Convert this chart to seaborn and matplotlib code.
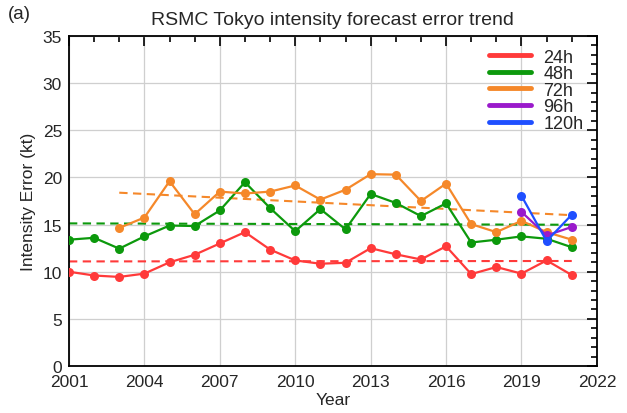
import numpy as np
import pandas as pd
import matplotlib
matplotlib.use("Agg")
import matplotlib.pyplot as plt
from matplotlib.ticker import MultipleLocator
import seaborn as sns

years = list(range(2001, 2022))
err_24h = [10.0, 9.6, 9.45, 9.8, 11.0, 11.8, 13.0, 14.2, 12.35, 11.2, 10.85,
           10.95, 12.5, 11.85, 11.3, 12.7, 9.75, 10.5, 9.8, 11.2, 9.65]
err_48h = [13.4, 13.6, 12.45, 13.75, 14.9, 14.85, 16.5, 19.5, 16.75, 14.3, 16.65,
           14.5, 18.25, 17.3, 15.9, 17.25, 13.1, 13.4, 13.75, 13.5, 12.6]
years_72h = list(range(2003, 2022))
err_72h = [14.65, 15.75, 19.6, 16.1, 18.5, 18.3, 18.5, 19.15, 17.65,
           18.7, 20.35, 20.3, 17.5, 19.35, 15.05, 14.2, 15.4, 14.2, 13.4]
years_ext = [2019, 2020, 2021]
err_96h = [16.35, 13.85, 14.75]
err_120h = [18.05, 13.25, 16.05]
labels = ["24h", "48h", "72h", "96h", "120h"]
colors = ["#ff3a3a", "#0c990c", "#f5882a", "#9a1acb", "#1f4fff"]

series = [(years, err_24h), (years, err_48h), (years_72h, err_72h),
          (years_ext, err_96h), (years_ext, err_120h)]
frames = []
for lab, (yr, val) in zip(labels, series):
    frames.append(pd.DataFrame({"Year": yr, "Error": val, "Lead": lab}))
df = pd.concat(frames, ignore_index=True)

sns.set_style("white")
plt.rcParams["font.family"] = ["Liberation Sans", "DejaVu Sans"]

fig = plt.figure(figsize=(6.27, 4.14), dpi=100)
ax = fig.add_axes([0.110, 0.1135, 0.842, 0.797])

ax.grid(True, which="major", color="#cfcfcf", linewidth=0.9, zorder=0)

# Linear trends for the three long records
for lab, col in zip(labels[:3], colors[:3]):
    sub = df[df["Lead"] == lab]
    k, b = np.polyfit(sub["Year"], sub["Error"], 1)
    xs = np.array([sub["Year"].min(), sub["Year"].max()])
    ax.plot(xs, k * xs + b, color=col, linestyle=(0, (4, 2.6)), linewidth=1.5, zorder=2)

sns.lineplot(data=df, x="Year", y="Error", hue="Lead", hue_order=labels,
             palette=colors, marker="o", markersize=6.5, markeredgewidth=0,
             linewidth=1.6, ax=ax, legend=False, zorder=3)

ax.set_xlim(2001, 2022)
ax.set_ylim(0, 35)
ax.xaxis.set_major_locator(MultipleLocator(3))
ax.xaxis.set_minor_locator(MultipleLocator(1))
ax.yaxis.set_major_locator(MultipleLocator(5))
ax.yaxis.set_minor_locator(MultipleLocator(1))
ax.tick_params(which="both", direction="in", top=True, right=True, labelsize=12.5,
               color="black")
ax.tick_params(which="major", length=7, width=1.2)
ax.tick_params(which="minor", length=4, width=1.2)
ax.tick_params(axis="x", which="major", pad=6)
ax.tick_params(axis="y", which="major", pad=5)
for s in ax.spines.values():
    s.set_color("black")
    s.set_linewidth(1.3)

ax.set_xlabel("Year", fontsize=12.5, labelpad=2)
ax.set_ylabel("Intensity Error (kt)", fontsize=12.5, labelpad=5)
ax.set_title("RSMC Tokyo intensity forecast error trend", fontsize=14, pad=9)
fig.text(0.012, 0.955, "(a)", fontsize=13.5)

handles = [plt.Line2D([], [], color=c, linewidth=3.5) for c in colors]
ax.legend(handles, labels, loc="upper right", bbox_to_anchor=(0.995, 0.995),
          frameon=False, fontsize=13, handlelength=2.3, handletextpad=0.7,
          labelspacing=-0.02, borderaxespad=0.2)

fig.savefig("out.png", dpi=100)
